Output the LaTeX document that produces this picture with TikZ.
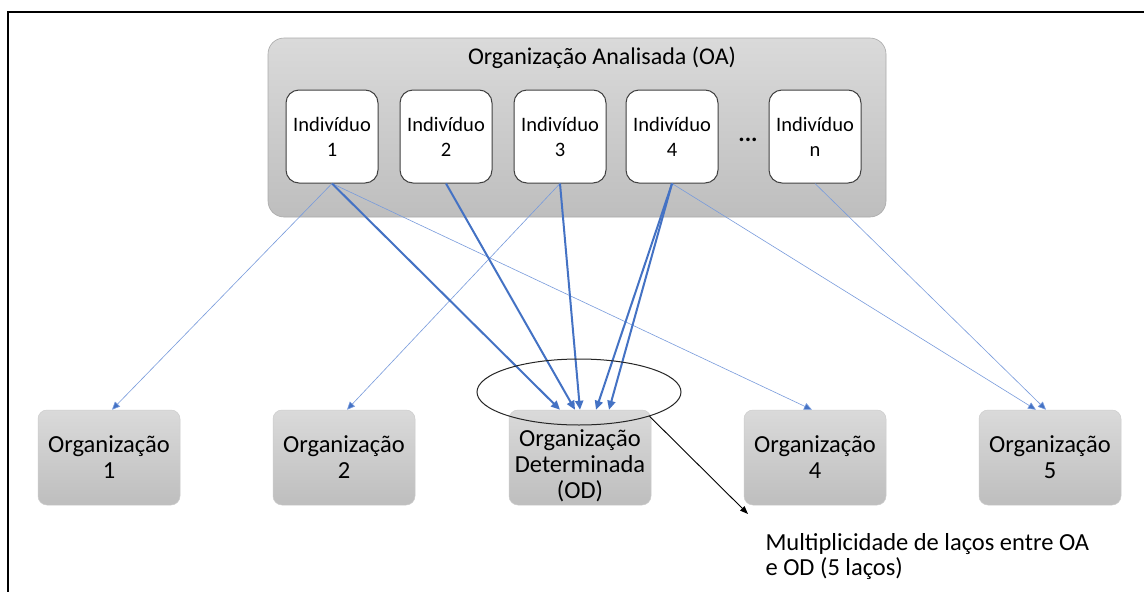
\documentclass[tikz,border=0pt]{standalone}
\usepackage{fontspec}
\setmainfont{Carlito}
\usetikzlibrary{shapes.geometric,arrows.meta,calc}
\definecolor{ablue}{RGB}{68,114,196}
\definecolor{tblue}{RGB}{120,155,220}
\definecolor{gtop}{RGB}{218,218,218}
\definecolor{gbot}{RGB}{190,190,190}
\definecolor{gline}{RGB}{170,170,170}
\tikzset{
  oabox/.style={rectangle,rounded corners=16pt,top color=gtop,bottom color=gbot,draw=gline,line width=0.6pt,minimum width=618pt,minimum height=179pt,inner sep=0pt},
  indbox/.style={rectangle,rounded corners=13pt,fill=white,draw=black!75,line width=1pt,minimum width=92pt,minimum height=93pt,inner sep=0pt,align=center,font=\fontsize{20.5}{25}\selectfont},
  orgbox/.style={rectangle,rounded corners=9pt,top color=gtop,bottom color=gbot,draw=gline!60,line width=0.5pt,minimum width=142pt,minimum height=95pt,inner sep=0pt,align=center,font=\fontsize{24.5}{26}\selectfont},
  thick arr/.style={draw=ablue,line width=2pt,-{Triangle[length=9pt,width=8pt]}},
  thin arr/.style={draw=tblue,line width=0.6pt,-{Triangle[length=8pt,width=7pt,fill=ablue]}},
}
\begin{document}
\begin{tikzpicture}[x=1pt,y=-1pt]
\useasboundingbox (0,0) rectangle (1144,592);
\fill[white] (0,0) rectangle (1144,592);
\draw[line width=1.2pt] (8,592) -- (8,12) -- (1144,12);

\node[oabox] (oa) at (577,127.5) {};
\node[font=\fontsize{24}{25}\selectfont] (oatitle) at (602,58) {Organização Analisada (OA)};

\node[indbox] (i1) at (332,136.5) {Indivíduo\\1};
\node[indbox] (i2) at (446,136.5) {Indivíduo\\2};
\node[indbox] (i3) at (560,136.5) {Indivíduo\\3};
\node[indbox] (i4) at (672,136.5) {Indivíduo\\4};
\node[indbox] (in) at (815,136.5) {Indivíduo\\n};
\node[font=\bfseries\fontsize{24}{25}\selectfont] (dots) at (748,140) {...};

\node[orgbox] (o1) at (109,457.5) {Organização\\1};
\node[orgbox] (o2) at (344,457.5) {Organização\\2};
\node[orgbox] (od) at (580,457.5) {};
\node[align=center,font=\fontsize{24.5}{26}\selectfont] (odtext) at (580,466) {Organização\\Determinada\\(OD)};
\node[orgbox] (o4) at (815,457.5) {Organização\\4};
\node[orgbox] (o5) at (1050,457.5) {Organização\\5};

% thin connections
\draw[thin arr] (i1.south) -- ([xshift=3pt]o1.north);
\draw[thin arr] (i1.south) -- ([xshift=-3pt]o4.north);
\draw[thin arr] (i3.south) -- ([xshift=3pt]o2.north);
\draw[thin arr] (i4.south) -- ([xshift=-14pt]o5.north);
\draw[thin arr] (in.south) -- ([xshift=-4pt]o5.north);

% thick connections
\draw[thick arr] (i1.south) -- ([xshift=-20pt]od.north);
\draw[thick arr] (i2.south) -- ([xshift=-5pt]od.north);
\draw[thick arr] (i3.south) -- ([xshift=0pt]od.north);
\draw[thick arr] (i4.south) -- ([xshift=16pt]od.north);
\draw[thick arr] (i4.south) -- ([xshift=29pt]od.north);

% ellipse and annotation
\node[ellipse,draw=black!85,line width=1pt,minimum width=204pt,minimum height=66pt,inner sep=0pt] (ell) at (579,392) {};
\node[align=left,anchor=north west,font=\fontsize{24.5}{25}\selectfont] (note) at (762,530) {Multiplicidade de laços entre OA\\e OD (5 laços)};
\coordinate (tip) at (748,514);
\draw[line width=0.9pt,-{Triangle[length=8pt,width=6pt]}] (ell.-19) -- (tip);
\end{tikzpicture}
\end{document}
